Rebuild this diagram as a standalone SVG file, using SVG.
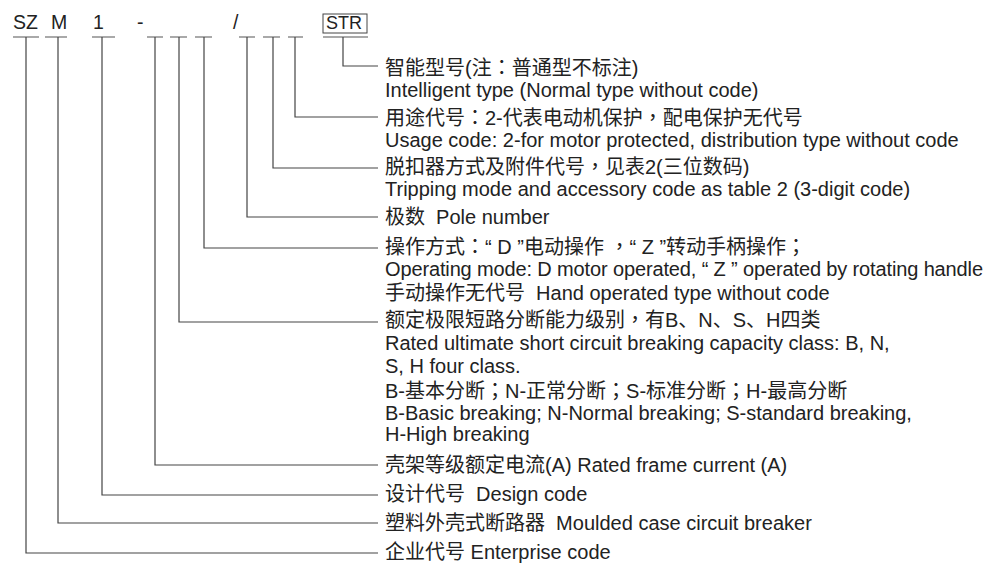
<svg xmlns="http://www.w3.org/2000/svg" width="988" height="563" viewBox="0 0 988 563">
<style>
text{font-family:"Liberation Sans","Noto Sans CJK SC",Arial,sans-serif;fill:#222;}
.t{font-size:20px;}
.h{font-size:19.5px;}
.p{font-family:"Noto Sans CJK TC","Noto Sans CJK SC",sans-serif;}
.u{stroke:#555;stroke-width:1.2;fill:none;}
.c{stroke:#444;stroke-width:1.2;fill:none;}
</style>
<rect width="988" height="563" fill="#fff"/>
<g id="code">
<text class="h" x="13" y="29">SZ</text>
<text class="h" x="51" y="29">M</text>
<text class="h" x="93" y="29">1</text>
<text class="h" x="137" y="29">-</text>
<text class="h" x="233" y="29">/</text>
<rect x="323" y="14" width="44" height="19" fill="none" stroke="#444" stroke-width="1"/>
<text x="326" y="29" style="font-size:18px">STR</text>
<path class="u" d="M13,37H39M45,37H67M92,37H115M147,37H163M170,37H187M195,37H212M239,37H255M263,37H280M288,37H303M323,37H368"/>
</g>
<g id="connectors">
<path class="c" d="M343,37V66H378"/>
<path class="c" d="M295,37V117H378"/>
<path class="c" d="M273,37V168H378"/>
<path class="c" d="M247,37V217H378"/>
<path class="c" d="M204,37V248H378"/>
<path class="c" d="M179,37V322H378"/>
<path class="c" d="M155,37V465H378"/>
<path class="c" d="M102,37V495H378"/>
<path class="c" d="M58,37V523H378"/>
<path class="c" d="M26,37V553H378"/>
</g>
<g id="n-str" class="t"><text x="385" y="75">智能型号(注<tspan class="p">：</tspan>普通型不标注)</text><text x="385" y="97">Intelligent type (Normal type without code)</text></g>
<g id="n-usage" class="t"><text x="385" y="125">用途代号<tspan class="p">：</tspan>2-代表电动机保护<tspan class="p">，</tspan>配电保护无代号</text><text x="385" y="147">Usage code: 2-for motor protected, distribution type without code</text></g>
<g id="n-trip" class="t"><text x="385" y="174">脱扣器方式及附件代号<tspan class="p">，</tspan>见表2(三位数码)</text><text x="385" y="196">Tripping mode and accessory code as table 2 (3-digit code)</text></g>
<g id="n-pole" class="t"><text x="385" y="224" xml:space="preserve">极数  Pole number</text></g>
<g id="n-oper" class="t"><text x="385" y="254" xml:space="preserve">操作方式<tspan class="p">：</tspan>“ D ”电动操作 <tspan class="p">，</tspan>“ Z ”转动手柄操作<tspan class="p">；</tspan></text><text x="385" y="276" textLength="598">Operating mode: D motor operated, “ Z ” operated by rotating handle</text><text x="385" y="300" xml:space="preserve">手动操作无代号  Hand operated type without code</text></g>
<g id="n-rated" class="t"><text x="385" y="327">额定极限短路分断能力级别<tspan class="p">，</tspan>有B、N、S、H四类</text><text x="385" y="350">Rated ultimate short circuit breaking capacity class: B, N,</text><text x="385" y="373">S, H four class.</text><text x="385" y="398">B-基本分断<tspan class="p">；</tspan>N-正常分断<tspan class="p">；</tspan>S-标准分断<tspan class="p">；</tspan>H-最高分断</text><text x="385" y="420">B-Basic breaking; N-Normal breaking; S-standard breaking,</text><text x="385" y="441">H-High breaking</text></g>
<g id="n-frame" class="t"><text x="385" y="472">壳架等级额定电流(A) Rated frame current (A)</text></g>
<g id="n-design" class="t"><text x="385" y="501" xml:space="preserve">设计代号  Design code</text></g>
<g id="n-mccb" class="t"><text x="385" y="530" xml:space="preserve">塑料外壳式断路器  Moulded case circuit breaker</text></g>
<g id="n-ent" class="t"><text x="385" y="559">企业代号 Enterprise code</text></g>
</svg>
